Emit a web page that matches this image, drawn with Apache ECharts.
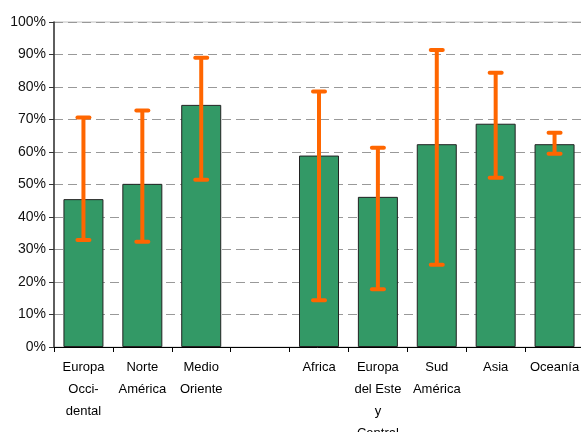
<!DOCTYPE html>
<html>
<head>
<meta charset="utf-8">
<script src="https://cdn.jsdelivr.net/npm/echarts@6/dist/echarts.min.js"></script>
<style>html,body{margin:0;padding:0;background:#fff}#c{width:581px;height:432px}</style>
</head>
<body>
<div id="c"></div>
<script>
const categories = ['Europa\nOcci-\ndental', 'Norte\nAmérica', 'Medio\nOriente', '', 'Africa', 'Europa\ndel Este\ny\nCentral', 'Sud\nAmérica', 'Asia', 'Oceanía'];
const values   = [45.5, 50.2, 74.5, null, 58.9, 46.2, 62.4, 68.7, 62.4];
const errHigh  = [70.6, 72.8, 89.0, null, 78.6, 61.3, 91.4, 84.4, 65.9];
const errLow   = [32.9, 32.4, 51.5, null, 14.4, 17.8, 25.3, 52.1, 59.5];
const yTicks = { min: 0, max: 100, interval: 10 };

const errData = [];
categories.forEach((c, i) => {
  if (errHigh[i] != null) errData.push([i, errHigh[i], errLow[i]]);
});

const chart = echarts.init(document.getElementById('c'), null, { renderer: 'canvas' });
const font = '"Liberation Sans", Arial, sans-serif';
chart.setOption({
  animation: false,
  backgroundColor: '#fff',
  grid: { left: 54, top: 22, width: 530, bottom: 85, show: true, borderColor: '#c0c0c0', borderWidth: 1, outerBoundsMode: 'none', containLabel: false },
  xAxis: {
    type: 'category',
    data: categories,
    axisLine: { lineStyle: { color: '#000', width: 1 } },
    axisTick: { show: true, interval: 0, length: 5, lineStyle: { color: '#000' } },
    axisLabel: { interval: 0, fontSize: 13, lineHeight: 22, margin: 9, color: '#000', fontFamily: font }
  },
  yAxis: {
    type: 'value',
    min: yTicks.min, max: yTicks.max, interval: yTicks.interval,
    axisLine: { show: true, lineStyle: { color: '#333', width: 1.5 } },
    axisTick: { show: true, length: 5, lineStyle: { color: '#333' } },
    axisLabel: { formatter: '{value}%', fontSize: 14, margin: 8, color: '#111', fontFamily: font },
    splitLine: { show: true, lineStyle: { color: '#999', type: [9, 5], width: 1 } }
  },
  series: [
    {
      type: 'bar',
      data: values,
      barWidth: 40,
      itemStyle: { color: '#339966', borderColor: '#222', borderWidth: 1 }
    },
    {
      type: 'custom',
      data: errData,
      encode: { x: 0, y: [1, 2] },
      z: 10,
      renderItem: function (params, api) {
        const x = api.value(0);
        const top = api.coord([x, api.value(1)]);
        const bot = api.coord([x, api.value(2)]);
        const hw = 6;
        const st = { stroke: '#FF6600', lineWidth: 4, lineCap: 'round' };
        return {
          type: 'group',
          children: [
            { type: 'line', shape: { x1: top[0], y1: top[1], x2: bot[0], y2: bot[1] }, style: { stroke: '#FF6600', lineWidth: 4 } },
            { type: 'line', shape: { x1: top[0] - hw, y1: top[1], x2: top[0] + hw, y2: top[1] }, style: st },
            { type: 'line', shape: { x1: bot[0] - hw, y1: bot[1], x2: bot[0] + hw, y2: bot[1] }, style: st }
          ]
        };
      }
    }
  ]
});
</script>
</body>
</html>
